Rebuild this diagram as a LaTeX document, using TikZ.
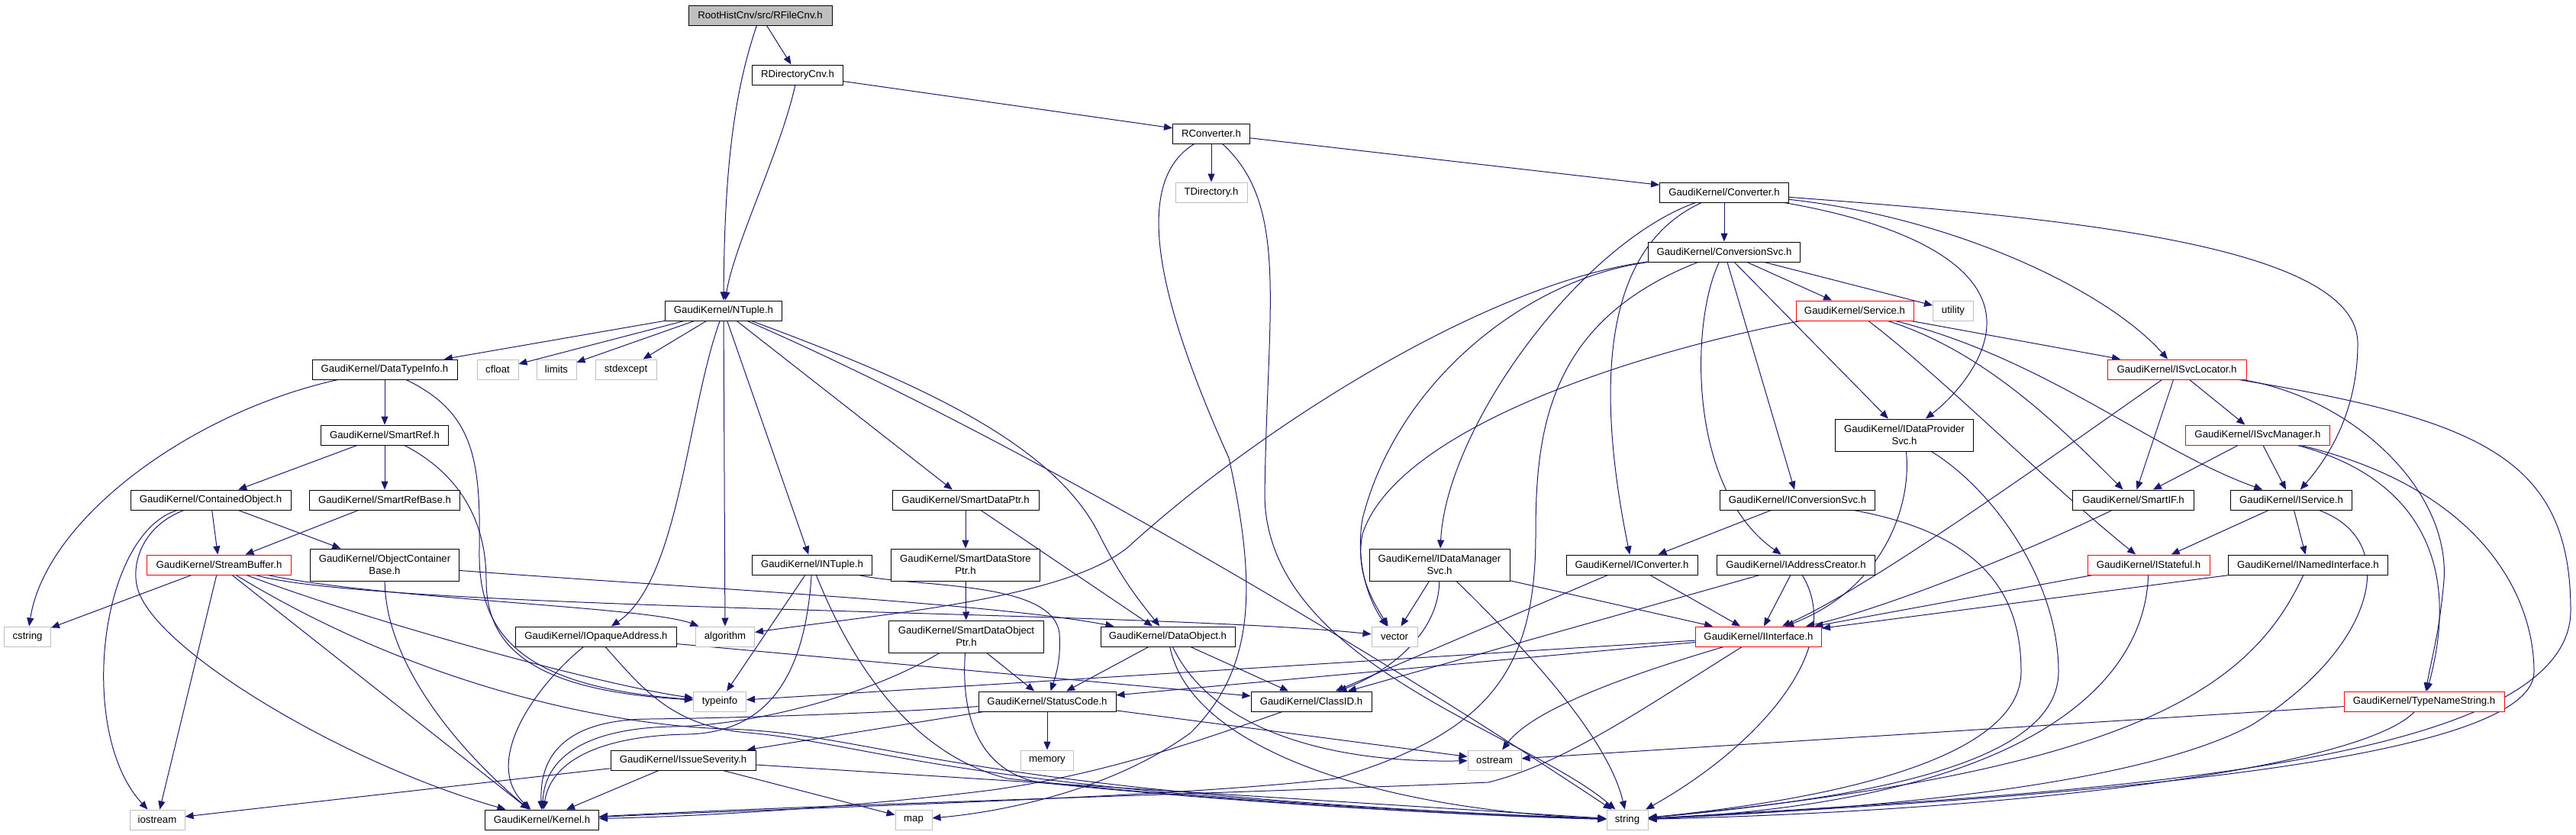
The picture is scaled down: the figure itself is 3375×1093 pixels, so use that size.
\documentclass[tikz,border=0pt]{standalone}
\usepackage{fontspec}
\newfontfamily\nodefont{Liberation Sans}
\usetikzlibrary{arrows.meta}
\definecolor{edgec}{HTML}{191970}
\definecolor{grayb}{HTML}{BFBFBF}
\pgfdeclarelayer{bg}
\pgfsetlayers{bg,main}
\tikzset{
  nb/.style={draw=black, fill=white, line width=0.5pt, minimum height=13pt, inner sep=0pt, align=center,
    font=\nodefont\fontsize{6.6}{7.8}\selectfont},
  ng/.style={nb, draw=grayb},
  nr/.style={nb, draw=red},
  two/.style={minimum height=21pt},
  e/.style={draw=edgec, line width=0.5pt, -{Triangle[length=5.5pt,width=4.5pt]}},
}
\begin{document}
\begin{tikzpicture}[x=0.5pt,y=-0.5pt]
\useasboundingbox (0,0) rectangle (3375,1093);
% nodes
\node[nb, fill=grayb, minimum width=94pt] (root) at (996,20) {RootHistCnv/src/RFileCnv.h};
\node[nb, minimum width=59.5pt] (rdir) at (1045,98) {RDirectoryCnv.h};
\node[nb, minimum width=50.5pt] (rconv) at (1587,175) {RConverter.h};
\node[ng, minimum width=47pt] (tdir) at (1587,252) {TDirectory.h};
\node[nb, minimum width=84.5pt] (conv) at (2259,252) {GaudiKernel/Converter.h};
\node[nb, minimum width=99.5pt] (convsvc) at (2259,330) {GaudiKernel/ConversionSvc.h};
\node[nb, minimum width=76.5pt] (ntuple) at (948,407) {GaudiKernel/NTuple.h};
\node[nr, minimum width=77pt] (service) at (2430,407) {GaudiKernel/Service.h};
\node[ng, minimum width=26.5pt] (utility) at (2559,407) {utility};
\node[nb, minimum width=95pt] (dti) at (504,484) {GaudiKernel/DataTypeInfo.h};
\node[ng, minimum width=27pt] (cfloat) at (652,484) {cfloat};
\node[ng, minimum width=26pt] (limits) at (729,484) {limits};
\node[ng, minimum width=40pt] (stdexcept) at (820,484) {stdexcept};
\node[nr, minimum width=91pt] (isvcloc) at (2852,484) {GaudiKernel/ISvcLocator.h};
\node[nb, minimum width=83.5pt] (smartref) at (504,570) {GaudiKernel/SmartRef.h};
\node[nb, two, minimum width=90.5pt] (idataprov) at (2495,570) {GaudiKernel/IDataProvider\\Svc.h};
\node[nr, minimum width=94.5pt] (ismgr) at (2958,570) {GaudiKernel/ISvcManager.h};
\node[nb, minimum width=105pt] (contobj) at (276,655) {GaudiKernel/ContainedObject.h};
\node[nb, minimum width=98.5pt] (srbase) at (504,655) {GaudiKernel/SmartRefBase.h};
\node[nb, minimum width=96pt] (sdptr) at (1265,655) {GaudiKernel/SmartDataPtr.h};
\node[nb, minimum width=101.5pt] (iconvsvc) at (2355,655) {GaudiKernel/IConversionSvc.h};
\node[nb, minimum width=79.5pt] (smartif) at (2795,655) {GaudiKernel/SmartIF.h};
\node[nb, minimum width=79.5pt] (iservice) at (3002,655) {GaudiKernel/IService.h};
\node[nr, minimum width=94.5pt] (strbuf) at (287,740) {GaudiKernel/StreamBuffer.h};
\node[nb, two, minimum width=97.5pt] (ocb) at (504,740) {GaudiKernel/ObjectContainer\\Base.h};
\node[nb, minimum width=78.5pt] (intuple) at (1064,740) {GaudiKernel/INTuple.h};
\node[nb, two, minimum width=97.5pt] (sdsptr) at (1265,740) {GaudiKernel/SmartDataStore\\Ptr.h};
\node[nb, two, minimum width=92pt] (idmgr) at (1886,740) {GaudiKernel/IDataManager\\Svc.h};
\node[nb, minimum width=86pt] (iconv) at (2138,740) {GaudiKernel/IConverter.h};
\node[nb, minimum width=103.5pt] (iaddr) at (2353,740) {GaudiKernel/IAddressCreator.h};
\node[nr, minimum width=80pt] (istateful) at (2815,740) {GaudiKernel/IStateful.h};
\node[nb, minimum width=104.5pt] (inamed) at (3024,740) {GaudiKernel/INamedInterface.h};
\node[ng, minimum width=30.5pt] (cstring) at (36,834) {cstring};
\node[nb, minimum width=105.5pt] (opaque) at (781,834) {GaudiKernel/IOpaqueAddress.h};
\node[ng, minimum width=38.5pt] (algorithm) at (950,834) {algorithm};
\node[nb, two, minimum width=101.5pt] (sdoptr) at (1266,834) {GaudiKernel/SmartDataObject\\Ptr.h};
\node[nb, minimum width=88pt] (dataobj) at (1530,834) {GaudiKernel/DataObject.h};
\node[ng, minimum width=30pt] (vector) at (1827,834) {vector};
\node[nr, minimum width=82.5pt] (iinterface) at (2304,834) {GaudiKernel/IInterface.h};
\node[ng, minimum width=34.5pt] (typeinfo) at (943,919) {typeinfo};
\node[nb, minimum width=90pt] (statuscode) at (1372,919) {GaudiKernel/StatusCode.h};
\node[nb, minimum width=79pt] (classid) at (1718,919) {GaudiKernel/ClassID.h};
\node[nr, minimum width=105pt] (tns) at (3176,919) {GaudiKernel/TypeNameString.h};
\node[nb, minimum width=95pt] (issue) at (895,996) {GaudiKernel/IssueSeverity.h};
\node[ng, minimum width=34.5pt] (memory) at (1372,996) {memory};
\node[ng, minimum width=35pt] (ostream) at (1958,996) {ostream};
\node[ng, minimum width=36pt] (iostream) at (206,1074) {iostream};
\node[nb, minimum width=74.5pt] (kernel) at (710,1074) {GaudiKernel/Kernel.h};
\node[ng, minimum width=24pt] (map) at (1197,1074) {map};
\node[ng, minimum width=27pt] (string) at (2132,1074) {string};
\begin{pgfonlayer}{bg}
% edges top
\draw[e] (root) -- (rdir);
\draw[e] (root) .. controls (962,120) and (949,220) .. (ntuple);
\draw[e] (rdir) -- (rconv);
\draw[e] (rdir) .. controls (1022,200) and (962,320) .. (ntuple);
\draw[e] (rconv) -- (tdir);
\draw[e] (rconv) -- (conv);
\draw[e] (rconv) .. controls (1480,240) and (1520,400) .. (1610,600) .. controls (1650,780) and (1640,880) .. (1560,960) .. controls (1450,1040) and (1300,1065) .. (map);
\draw[e] (rconv) .. controls (1690,270) and (1660,400) .. (1657,650) .. controls (1660,870) and (2000,960) .. (string);
\draw[e] (conv) -- (convsvc);
\draw[e] (conv) .. controls (2070,320) and (1895,560) .. (idmgr);
\draw[e] (conv) .. controls (2110,320) and (2085,480) .. (iconv);
\draw[e] (conv) .. controls (2480,290) and (2600,340) .. (2603,420) .. controls (2605,470) and (2560,520) .. (idataprov);
\draw[e] (conv) .. controls (2560,285) and (2760,380) .. (isvcloc);
\draw[e] (conv) .. controls (2700,285) and (3089,320) .. (3089,450) .. controls (3089,540) and (3050,600) .. (iservice);
\draw[e] (convsvc) -- (service);
\draw[e] (convsvc) -- (utility);
\draw[e] (convsvc) -- (idataprov);
\draw[e] (convsvc) -- (iconvsvc);
\draw[e] (convsvc) .. controls (2215,420) and (2210,640) .. (iaddr);
\draw[e] (convsvc) .. controls (1950,370) and (1650,560) .. (1480,715) .. controls (1400,785) and (1150,805) .. (algorithm);
\draw[e] (convsvc) .. controls (2000,365) and (1830,500) .. (1785,680) .. controls (1775,740) and (1795,790) .. (vector);
\draw[e] (convsvc) .. controls (2030,420) and (2012,560) .. (2012,700) .. controls (2012,880) and (1950,960) .. (1750,1020) .. controls (1550,1045) and (1050,1058) .. (kernel);
\draw[e] (service) -- (isvcloc);
\draw[e] (service) .. controls (2600,460) and (2700,560) .. (smartif);
\draw[e] (service) .. controls (2680,470) and (2820,590) .. (iservice);
\draw[e] (service) .. controls (2540,490) and (2690,640) .. (istateful);
\draw[e] (service) .. controls (2150,460) and (1830,560) .. (1785,700) .. controls (1775,750) and (1800,790) .. (vector);
\draw[e] (isvcloc) -- (ismgr);
\draw[e] (isvcloc) -- (smartif);
\draw[e] (isvcloc) .. controls (2700,590) and (2450,770) .. (iinterface);
\draw[e] (isvcloc) .. controls (3080,520) and (3210,640) .. (3202,760) .. controls (3196,830) and (3186,860) .. (tns);
\draw[e] (isvcloc) .. controls (3250,550) and (3368,600) .. (3368,800) .. controls (3368,1010) and (2700,1040) .. (string);
\draw[e] (ismgr) -- (smartif);
\draw[e] (ismgr) -- (iservice);
\draw[e] (ismgr) .. controls (3150,620) and (3230,720) .. (tns);
\draw[e] (ismgr) .. controls (3250,640) and (3320,780) .. (3320,880) .. controls (3320,1000) and (2700,1045) .. (string);
\draw[e] (idataprov) .. controls (2505,660) and (2470,770) .. (iinterface);
\draw[e] (idataprov) .. controls (2610,640) and (2697,760) .. (2697,880) .. controls (2697,1000) and (2450,1045) .. (string);
\draw[e] (iconvsvc) -- (iconv);
\draw[e] (iconvsvc) .. controls (2600,700) and (2648,780) .. (2648,880) .. controls (2648,990) and (2420,1045) .. (string);
\draw[e] (smartif) .. controls (2640,730) and (2460,800) .. (iinterface);
\draw[e] (iservice) -- (istateful);
\draw[e] (iservice) -- (inamed);
\draw[e] (iservice) .. controls (3150,710) and (3110,850) .. (2950,950) .. controls (2800,1030) and (2450,1060) .. (string);
\draw[e] (istateful) -- (iinterface);
\draw[e] (istateful) .. controls (2810,900) and (2650,1050) .. (string);
\draw[e] (inamed) -- (iinterface);
\draw[e] (inamed) .. controls (2950,900) and (2800,1010) .. (string);
\draw[e] (tns) -- (ostream);
\draw[e] (tns) .. controls (3100,1000) and (2700,1060) .. (string);
% edges left
\draw[e] (ntuple) -- (dti);
\draw[e] (ntuple) -- (cfloat);
\draw[e] (ntuple) -- (limits);
\draw[e] (ntuple) -- (stdexcept);
\draw[e] (ntuple) .. controls (900,540) and (890,760) .. (opaque);
\draw[e] (ntuple) -- (algorithm);
\draw[e] (ntuple) -- (intuple);
\draw[e] (ntuple) -- (sdptr);
\draw[e] (ntuple) .. controls (1200,500) and (1380,580) .. (1440,700) .. controls (1470,760) and (1495,790) .. (dataobj);
\draw[e] (ntuple) .. controls (1300,560) and (1750,820) .. (string);
\draw[e] (dti) -- (smartref);
\draw[e] (dti) .. controls (250,540) and (60,680) .. (cstring);
\draw[e] (dti) .. controls (620,540) and (630,600) .. (628,720) .. controls (626,830) and (680,900) .. (typeinfo);
\draw[e] (smartref) -- (contobj);
\draw[e] (smartref) -- (srbase);
\draw[e] (smartref) .. controls (600,620) and (637,680) .. (637,760) .. controls (637,850) and (700,905) .. (typeinfo);
\draw[e] (contobj) -- (strbuf);
\draw[e] (contobj) -- (ocb);
\draw[e] (contobj) .. controls (130,700) and (100,960) .. (iostream);
\draw[e] (contobj) .. controls (185,690) and (172,740) .. (180,770) .. controls (200,850) and (450,1000) .. (kernel);
\draw[e] (srbase) -- (strbuf);
\draw[e] (strbuf) -- (cstring);
\draw[e] (strbuf) -- (iostream);
\draw[e] (strbuf) -- (kernel);
\draw[e] (strbuf) .. controls (500,820) and (800,900) .. (typeinfo);
\draw[e] (strbuf) .. controls (550,900) and (800,950) .. (950,955) .. controls (1150,960) and (1250,1040) .. (string);
\draw[e] (strbuf) .. controls (500,800) and (1500,800) .. (vector);
\draw[e] (strbuf) .. controls (500,785) and (850,795) .. (algorithm);
\draw[e] (ocb) .. controls (505,880) and (620,1000) .. (kernel);
\draw[e] (ocb) .. controls (900,770) and (1300,790) .. (dataobj);
\draw[e] (intuple) -- (typeinfo);
\draw[e] (intuple) .. controls (1055,880) and (1010,960) .. (900,962) .. controls (790,964) and (722,995) .. (kernel);
\draw[e] (intuple) .. controls (1120,880) and (1200,990) .. (1320,1020) .. controls (1600,1050) and (1900,1068) .. (string);
\draw[e] (intuple) .. controls (1200,770) and (1380,760) .. (1388,830) .. controls (1390,860) and (1385,880) .. (statuscode);
\draw[e] (opaque) .. controls (700,900) and (630,1000) .. (kernel);
\draw[e] (opaque) -- (classid);
\draw[e] (opaque) .. controls (840,900) and (880,952) .. (980,960) .. controls (1150,975) and (1250,1040) .. (string);
\draw[e] (sdptr) -- (sdsptr);
\draw[e] (sdptr) -- (dataobj);
\draw[e] (sdsptr) -- (sdoptr);
\draw[e] (sdoptr) -- (statuscode);
\draw[e] (sdoptr) .. controls (1150,905) and (1000,950) .. (880,952) .. controls (780,954) and (714,985) .. (kernel);
\draw[e] (sdoptr) .. controls (1258,950) and (1290,1010) .. (1360,1025) .. controls (1600,1050) and (1900,1068) .. (string);
\draw[e] (dataobj) -- (statuscode);
\draw[e] (dataobj) -- (classid);
\draw[e] (dataobj) .. controls (1560,980) and (1800,1060) .. (string);
\draw[e] (dataobj) .. controls (1590,960) and (1750,1000) .. (ostream);
\draw[e] (statuscode) -- (issue);
\draw[e] (statuscode) -- (memory);
\draw[e] (statuscode) -- (ostream);
\draw[e] (statuscode) .. controls (1150,935) and (950,941) .. (850,942) .. controls (760,943) and (706,975) .. (kernel);
\draw[e] (issue) -- (iostream);
\draw[e] (issue) -- (kernel);
\draw[e] (issue) -- (map);
\draw[e] (issue) -- (string);
\draw[e] (classid) .. controls (1560,975) and (1440,1015) .. (1300,1035) .. controls (1100,1060) and (900,1070) .. (kernel);
\draw[e] (idmgr) -- (vector);
\draw[e] (idmgr) .. controls (1885,830) and (1820,880) .. (classid);
\draw[e] (idmgr) .. controls (2030,880) and (2110,980) .. (string);
\draw[e] (idmgr) -- (iinterface);
\draw[e] (iconv) -- (classid);
\draw[e] (iconv) -- (iinterface);
\draw[e] (iaddr) -- (classid);
\draw[e] (iaddr) -- (iinterface);
\draw[e] (iaddr) .. controls (2420,850) and (2300,980) .. (string);
\draw[e] (iinterface) -- (typeinfo);
\draw[e] (iinterface) -- (statuscode);
\draw[e] (iinterface) .. controls (2080,900) and (2000,940) .. (ostream);
\draw[e] (iinterface) .. controls (2150,930) and (2050,1000) .. (1950,1025) .. controls (1600,1040) and (1050,1055) .. (kernel);
\end{pgfonlayer}
\end{tikzpicture}
\end{document}
